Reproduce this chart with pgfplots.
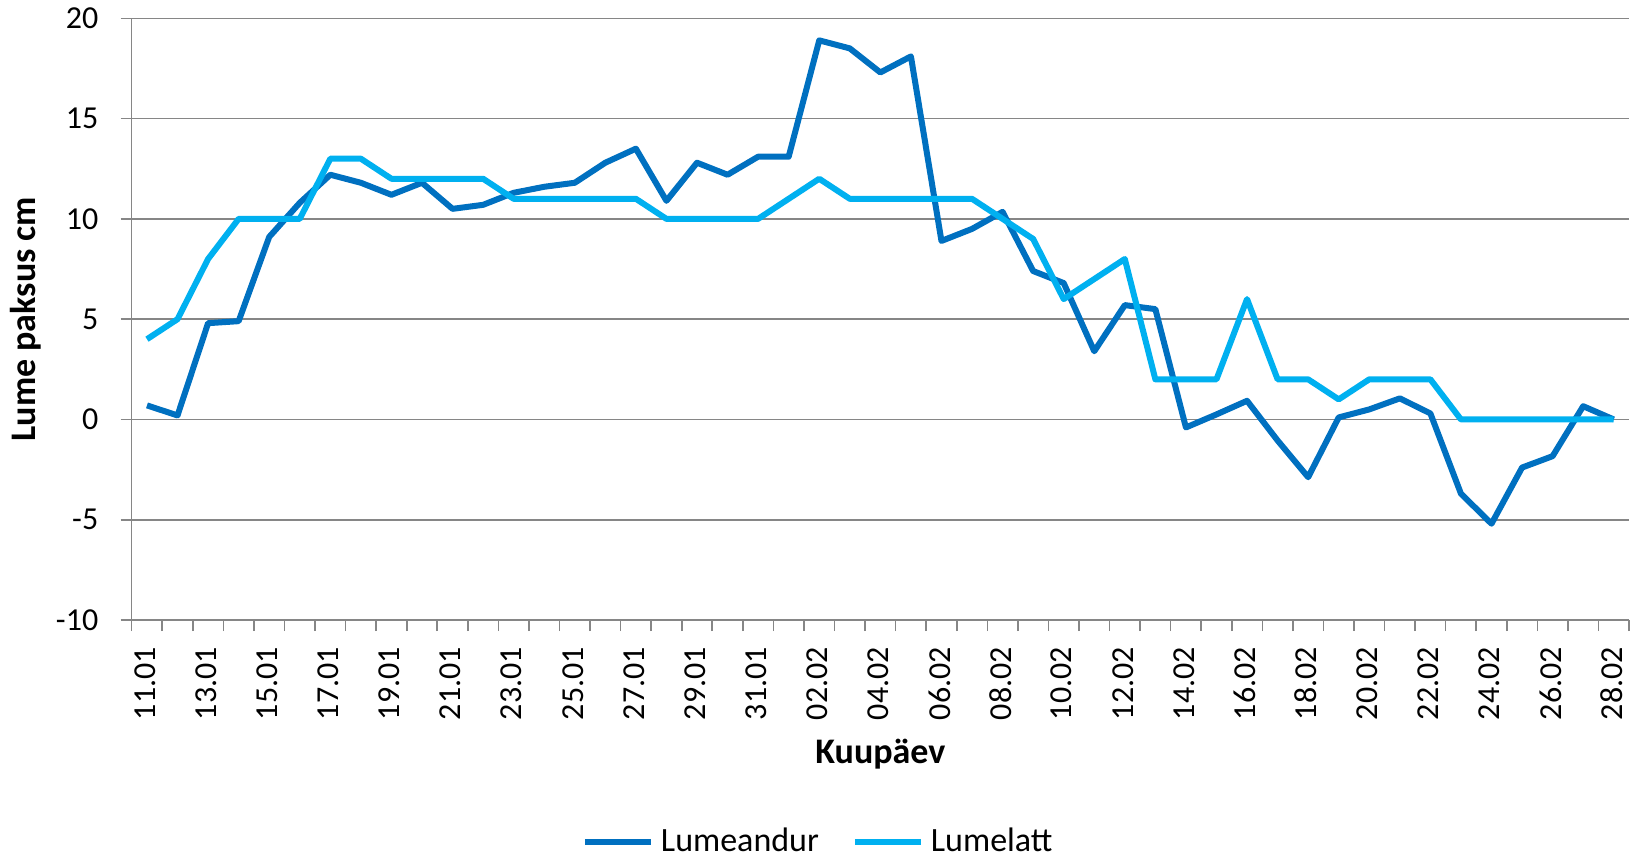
\documentclass[border=0pt]{standalone}
\usepackage{fontspec}
\setmainfont{Carlito}
\usepackage{pgfplots}
\usepackage{pgfplotstable}
\pgfplotsset{compat=1.18}
\definecolor{andur}{HTML}{0070C0}
\definecolor{latt}{HTML}{00B0F0}
\definecolor{gridgray}{HTML}{868686}

\pgfplotstableread{
x andur latt
0 0.7 4
1 0.2 5
2 4.8 8
3 4.9 10
4 9.1 10
5 10.8 10
6 12.2 13
7 11.8 13
8 11.2 12
9 11.8 12
10 10.5 12
11 10.7 12
12 11.3 11
13 11.6 11
14 11.8 11
15 12.8 11
16 13.5 11
17 10.9 10
18 12.8 10
19 12.2 10
20 13.1 10
21 13.1 11
22 18.9 12
23 18.5 11
24 17.3 11
25 18.1 11
26 8.9 11
27 9.5 11
28 10.35 10
29 7.4 9
30 6.8 6
31 3.4 7
32 5.7 8
33 5.5 2
34 -0.4 2
35 0.25 2
36 0.93 6
37 -1.05 2
38 -2.88 2
39 0.1 1
40 0.5 2
41 1.05 2
42 0.3 2
43 -3.7 0
44 -5.2 0
45 -2.4 0
46 -1.83 0
47 0.66 0
48 0.0 0
}\snow

\begin{document}
\begin{tikzpicture}
\path[use as bounding box] (-65.85pt,-121.5pt) rectangle (755.15pt,310pt);
\begin{axis}[
  at={(0pt,0pt)}, anchor=south west,
  scale only axis, width=748.65pt, height=300.85pt,
  xmin=-0.5, xmax=48.5, ymin=-10, ymax=20,
  axis x line*=bottom, axis y line*=left,
  axis line style={gridgray, line width=0.8pt},
  ytick={-10,-5,0,5,10,15,20},
  yticklabels={-10,-5,0,5,10,15,20},
  xtick={0,2,...,48},
  xticklabels={11.01,13.01,15.01,17.01,19.01,21.01,23.01,25.01,27.01,29.01,31.01,02.02,04.02,06.02,08.02,10.02,12.02,14.02,16.02,18.02,20.02,22.02,24.02,26.02,28.02},
  minor xtick={-0.5,0.5,...,48.5},
  tick align=outside,
  major tick length=5.5pt, minor tick length=5.5pt,
  major x tick style={draw=none},
  tick style={gridgray, line width=0.8pt},
  ymajorgrids, grid style={gridgray, line width=0.8pt},
  tick label style={font=\fontsize{16}{19}\selectfont, black},
  yticklabel style={anchor=east, xshift=-7.7pt},
  xticklabel style={rotate=90, anchor=east, xshift=-4.5pt, yshift=1pt},
  ylabel={\textbf{Lume paksus cm}},
  every axis y label/.style={at={(rel axis cs:0,0.5)}, xshift=-52.85pt, rotate=90, anchor=center, font=\fontsize{18}{21}\selectfont},
  xlabel={\textbf{Kuupäev}},
  every axis x label/.style={at={(rel axis cs:0.5,-0.2227)}, anchor=center, font=\fontsize{18}{21}\selectfont},
  legend style={at={(rel axis cs:0.4602,-0.3683)}, anchor=center, draw=none, legend columns=2,
    font=\fontsize{17}{20}\selectfont, inner sep=0pt,
    nodes={inner xsep=3.5pt, inner ysep=1pt},
    /tikz/every even column/.append style={column sep=13pt}},
  legend image code/.code={\draw[#1, line width=3pt] (0pt,0pt) -- (33pt,0pt);},
  clip=false,
]
\addplot[andur, line width=3pt, line join=round] table[x=x, y=andur] {\snow};
\addlegendentry{Lumeandur}
\addplot[latt, line width=3pt, line join=round] table[x=x, y=latt] {\snow};
\addlegendentry{Lumelatt}
\end{axis}
\end{tikzpicture}
\end{document}
